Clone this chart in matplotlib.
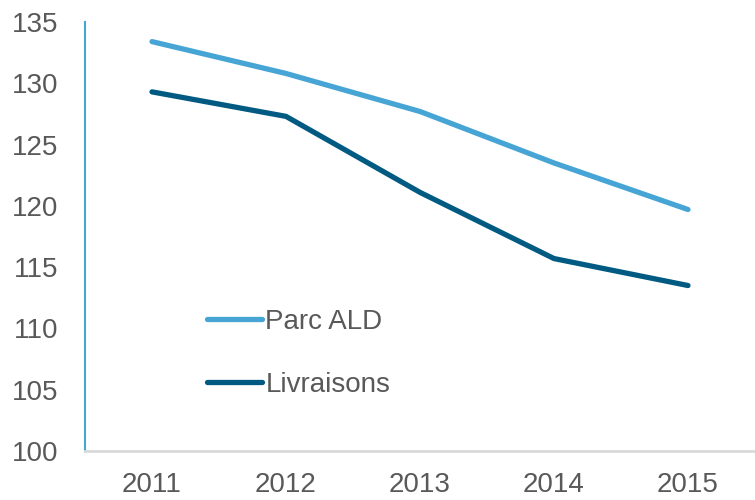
import matplotlib
matplotlib.use('Agg')
import matplotlib.pyplot as plt

plt.rcParams['font.family'] = ['Liberation Sans', 'DejaVu Sans']

# data
years = ['2011', '2012', '2013', '2014', '2015']
parc_ald = [133.4, 130.8, 127.7, 123.5, 119.7]
livraisons = [129.3, 127.3, 121.1, 115.7, 113.5]

fig = plt.figure(figsize=(7.55, 5.0), dpi=100)
ax = fig.add_axes([85/755, 49/500, 670/755, 429/500])

x = range(len(years))
ax.plot(x, parc_ald, color='#47A5D5', lw=3.8, solid_capstyle='round', label='Parc ALD')
ax.plot(x, livraisons, color='#005A82', lw=3.8, solid_capstyle='round', label='Livraisons')

ax.set_xlim(-0.5, 4.5)
ax.set_ylim(100, 135)
ax.set_yticks(range(100, 136, 5))
ax.set_xticks(list(x))
ax.set_xticklabels(years)

for s in ['top', 'right']:
    ax.spines[s].set_visible(False)
ax.spines['left'].set_color('#47A5D5')
ax.spines['left'].set_linewidth(1.5)
ax.spines['bottom'].set_color('#D9D9D9')
ax.spines['bottom'].set_linewidth(2)

ax.tick_params(axis='y', length=0, pad=19, labelsize=20, labelcolor='#595959')
ax.tick_params(axis='x', length=0, pad=15, labelsize=20, labelcolor='#595959')

leg = ax.legend(loc='upper left', bbox_to_anchor=(0.182, 0.331), frameon=False,
                fontsize=20, handlelength=2.0, handletextpad=0.1, labelspacing=1.33,
                borderpad=0, borderaxespad=0)
for t in leg.get_texts():
    t.set_color('#595959')

fig.savefig('out.png', dpi=100)
